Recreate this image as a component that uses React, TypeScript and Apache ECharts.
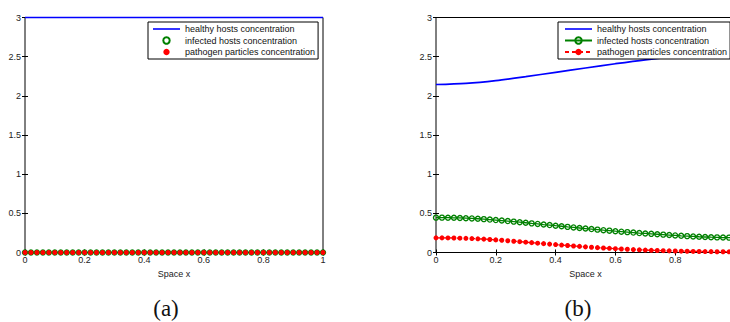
import React, { useEffect, useRef } from "react";
import * as echarts from "echarts";

const xs = [0, 0.02, 0.04, 0.06, 0.08, 0.1, 0.12, 0.14, 0.16, 0.18, 0.2, 0.22, 0.24, 0.26, 0.28, 0.3, 0.32, 0.34, 0.36, 0.38, 0.4, 0.42, 0.44, 0.46, 0.48, 0.5, 0.52, 0.54, 0.56, 0.58, 0.6, 0.62, 0.64, 0.66, 0.68, 0.7, 0.72, 0.74, 0.76, 0.78, 0.8, 0.82, 0.84, 0.86, 0.88, 0.9, 0.92, 0.94, 0.96, 0.98, 1];

// Panel (a)
const xsHealthyA = [0, 1];
const healthyA = [3, 3];
const infectedA = [0, 0, 0, 0, 0, 0, 0, 0, 0, 0, 0, 0, 0, 0, 0, 0, 0, 0, 0, 0, 0, 0, 0, 0, 0, 0, 0, 0, 0, 0, 0, 0, 0, 0, 0, 0, 0, 0, 0, 0, 0, 0, 0, 0, 0, 0, 0, 0, 0, 0, 0];
const pathogenA = [0, 0, 0, 0, 0, 0, 0, 0, 0, 0, 0, 0, 0, 0, 0, 0, 0, 0, 0, 0, 0, 0, 0, 0, 0, 0, 0, 0, 0, 0, 0, 0, 0, 0, 0, 0, 0, 0, 0, 0, 0, 0, 0, 0, 0, 0, 0, 0, 0, 0, 0];

// Panel (b)
const xsHealthyB = [0, 0.1, 0.2, 0.3, 0.4, 0.5, 0.6, 0.7, 0.8, 0.9, 1];
const healthyB = [2.145, 2.16, 2.195, 2.245, 2.3, 2.355, 2.41, 2.46, 2.5, 2.53, 2.54];
const infectedB = [0.445, 0.445, 0.444, 0.443, 0.441, 0.438, 0.435, 0.431, 0.426, 0.42, 0.414, 0.408, 0.401, 0.394, 0.387, 0.38, 0.372, 0.365, 0.357, 0.35, 0.342, 0.335, 0.327, 0.32, 0.313, 0.306, 0.299, 0.292, 0.285, 0.279, 0.272, 0.266, 0.26, 0.254, 0.248, 0.243, 0.238, 0.233, 0.228, 0.223, 0.218, 0.213, 0.209, 0.205, 0.201, 0.198, 0.195, 0.193, 0.191, 0.19, 0.189];
const pathogenB = [0.187, 0.187, 0.186, 0.185, 0.183, 0.181, 0.178, 0.175, 0.171, 0.166, 0.161, 0.156, 0.15, 0.144, 0.138, 0.132, 0.126, 0.119, 0.113, 0.107, 0.101, 0.095, 0.089, 0.083, 0.078, 0.072, 0.067, 0.062, 0.057, 0.053, 0.049, 0.045, 0.041, 0.037, 0.034, 0.031, 0.028, 0.026, 0.023, 0.021, 0.019, 0.017, 0.016, 0.014, 0.013, 0.012, 0.011, 0.01, 0.01, 0.009, 0.009];

const seriesNames = ["healthy hosts concentration", "infected hosts concentration", "pathogen particles concentration"];
const captions = ["(a)", "(b)"];
const xAxisTitle = "Space x";

const SANS = "'Liberation Sans', Arial, Helvetica, sans-serif";
const SERIF = "23px 'Liberation Serif', 'Times New Roman', serif";
const BLUE = "#0000ff";
const GREEN = "#008000";
const RED = "#ff0000";
const LINE_ICON = "path://M0,0L27,0L27,1.6L0,1.6Z";

const pairs = (x: number[], y: number[]) => x.map((v, i) => [v, y[i]]);
const fmt = (v: number) => String(+(+v).toFixed(2));

function axesFor(gridIndex: number, showMaxX: boolean) {
  const tick = { show: true, inside: true, length: 3, lineStyle: { color: "#000", width: 1 } };
  const xBottom = {
    type: "value", gridIndex, min: 0, max: 1, interval: 0.2, position: "bottom",
    axisLine: { show: false }, axisTick: tick, splitLine: { show: false },
    axisLabel: { formatter: fmt, color: "#222", fontSize: 9, fontFamily: SANS, margin: 3, showMaxLabel: showMaxX },
    name: xAxisTitle, nameLocation: "middle", nameGap: 14,
    nameTextStyle: { color: "#222", fontSize: 9, fontFamily: SANS },
  };
  const xTop = {
    type: "value", gridIndex, min: 0, max: 1, interval: 0.2, position: "top",
    axisLine: { show: false }, axisTick: tick, splitLine: { show: false }, axisLabel: { show: false },
  };
  const yLeft = {
    type: "value", gridIndex, min: 0, max: 3, interval: 0.5, position: "left",
    axisLine: { show: false }, axisTick: tick, splitLine: { show: false },
    axisLabel: { formatter: fmt, color: "#222", fontSize: 9, fontFamily: SANS, margin: 4 },
  };
  const yRight = {
    type: "value", gridIndex, min: 0, max: 3, interval: 0.5, position: "right",
    axisLine: { show: false }, axisTick: tick, splitLine: { show: false }, axisLabel: { show: false },
  };
  return { x: [xBottom, xTop], y: [yLeft, yRight] };
}

export default function App() {
  const ref = useRef<HTMLDivElement>(null);
  useEffect(() => {
    if (!ref.current) return;
    const chart = echarts.init(ref.current, null, { renderer: "svg" });
    const a = axesFor(0, true);
    const b = axesFor(1, false);
    const suffixB = " (b)";
    const legendBase = {
      orient: "vertical",
      backgroundColor: "#fff",
      borderColor: "#000",
      borderWidth: 1,
      itemWidth: 27,
      itemHeight: 8,
      itemGap: 2.5,
      textStyle: { color: "#111", fontSize: 9, fontFamily: SANS },
      selectedMode: false,
    };
    const legendData = (suffix: string) => [
      { name: seriesNames[0] + suffix, icon: LINE_ICON },
      { name: seriesNames[1] + suffix },
      { name: seriesNames[2] + suffix },
    ];
    chart.setOption({
      animation: false,
      backgroundColor: "#fff",
      grid: [
        { left: 25, top: 17.5, width: 298, height: 235, show: true, borderColor: "#000", borderWidth: 1, backgroundColor: "#fff" },
        { left: 436, top: 17.5, width: 299, height: 235, show: true, borderColor: "#000", borderWidth: 1, backgroundColor: "#fff" },
      ],
      xAxis: [...a.x, ...b.x],
      yAxis: [...a.y, ...b.y],
      legend: [
        { ...legendBase, left: 148, top: 22, padding: [2.5, 3, 2.5, 5], data: legendData("") },
        { ...legendBase, left: 558, top: 22, padding: [2.5, 3, 2.5, 6], data: legendData(suffixB), formatter: (n: string) => n.replace(suffixB, "") },
      ],
      series: [
        {
          name: seriesNames[0], type: "line", xAxisIndex: 0, yAxisIndex: 0, symbol: "none",
          data: pairs(xsHealthyA, healthyA), lineStyle: { color: BLUE, width: 1.6 }, itemStyle: { color: BLUE }, clip: false, z: 3,
        },
        {
          name: seriesNames[1], type: "line", xAxisIndex: 0, yAxisIndex: 0, symbol: "circle", symbolSize: 5, showSymbol: true,
          data: pairs(xs, infectedA), lineStyle: { color: GREEN, width: 0, opacity: 0 },
          itemStyle: { color: "rgba(255,255,255,0)", borderColor: GREEN, borderWidth: 1.4 }, clip: false, z: 4,
        },
        {
          name: seriesNames[2], type: "line", xAxisIndex: 0, yAxisIndex: 0, symbol: "circle", symbolSize: 5, showSymbol: true,
          data: pairs(xs, pathogenA), lineStyle: { color: RED, width: 0, opacity: 0 },
          itemStyle: { color: RED, borderWidth: 0 }, clip: false, z: 5,
        },
        {
          name: seriesNames[0] + suffixB, type: "line", xAxisIndex: 2, yAxisIndex: 2, symbol: "none", smooth: 0.3,
          data: pairs(xsHealthyB, healthyB), lineStyle: { color: BLUE, width: 1.7 }, itemStyle: { color: BLUE }, clip: false, z: 3,
        },
        {
          name: seriesNames[1] + suffixB, type: "line", xAxisIndex: 2, yAxisIndex: 2, symbol: "circle", symbolSize: 5, showSymbol: true,
          data: pairs(xs, infectedB), lineStyle: { color: GREEN, width: 1.3 },
          itemStyle: { color: "rgba(255,255,255,0)", borderColor: GREEN, borderWidth: 1.4 }, clip: false, z: 4,
        },
        {
          name: seriesNames[2] + suffixB, type: "line", xAxisIndex: 2, yAxisIndex: 2, symbol: "circle", symbolSize: 5, showSymbol: true,
          data: pairs(xs, pathogenB), lineStyle: { color: RED, width: 1.3, type: [4, 3] },
          itemStyle: { color: RED, borderWidth: 0 }, clip: false, z: 5,
        },
      ],
      graphic: [
        { type: "text", x: 166, y: 308, style: { text: captions[0], fill: "#111", font: SERIF, textAlign: "center", textVerticalAlign: "middle" } },
        { type: "text", x: 578, y: 308, style: { text: captions[1], fill: "#111", font: SERIF, textAlign: "center", textVerticalAlign: "middle" } },
      ],
    });
    return () => chart.dispose();
  }, []);
  return (
    <div style={{ position: "absolute", left: 0, top: 0, width: 730, height: 322, overflow: "hidden", background: "#fff" }}>
      <div ref={ref} style={{ position: "absolute", left: 0, top: 0, width: 745, height: 322 }} />
    </div>
  );
}
